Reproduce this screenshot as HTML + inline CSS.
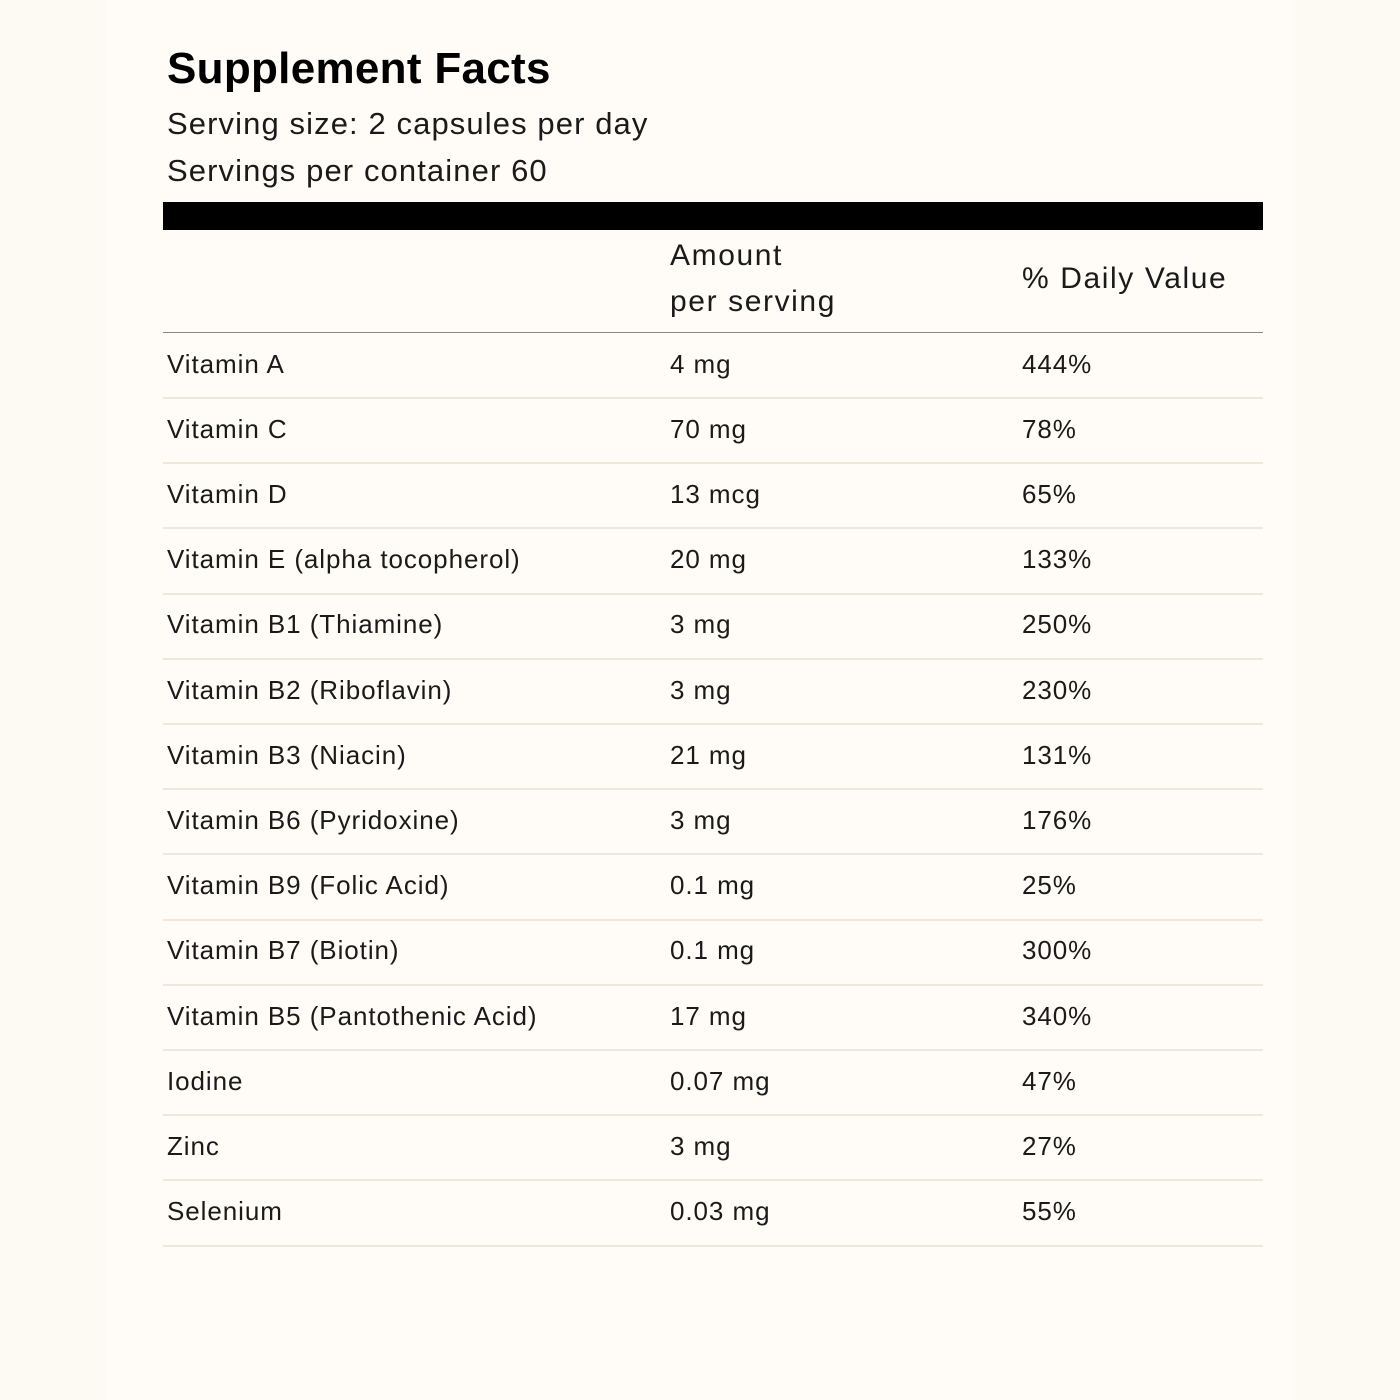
<!DOCTYPE html>
<html><head><meta charset="utf-8"><style>
html,body{margin:0;padding:0}
body{width:1400px;height:1400px;background:#fdf9f3;position:relative;overflow:hidden;font-family:"Liberation Sans",Arial,sans-serif;color:#111}
.panel{position:absolute;left:107px;top:0;width:1185px;height:1400px;background:#fffcf7}
.t{position:absolute;white-space:nowrap;line-height:1}
.title{left:167px;top:47px;font-size:44px;font-weight:bold;color:#000;letter-spacing:0.3px}
.sub{left:167px;font-size:31px;color:#1a1a1a;letter-spacing:1.1px}
.bar{position:absolute;left:163px;top:202px;width:1100px;height:28px;background:#000}
.hl{position:absolute;left:163px;width:1100px;height:1px;background:#888}
.sep{position:absolute;left:163px;width:1100px;height:2px;background:#f1e6da}
.h{font-size:30px;color:#1a1a1a;letter-spacing:1.6px}
.c{font-size:26px;color:#1a1a1a;letter-spacing:0.93px}
</style></head><body>
<div class="panel"></div>
<div class="t title">Supplement Facts</div>
<div class="t sub" style="top:108px">Serving size: 2 capsules per day</div>
<div class="t sub" style="top:155px">Servings per container 60</div>
<div class="bar"></div>
<div class="t h" style="left:670px;top:241px">Amount</div>
<div class="t h" style="left:670px;top:287px">per serving</div>
<div class="t h" style="left:1022px;top:264px">% Daily Value</div>
<div class="hl" style="top:332px"></div>
<div id="rows"></div>
<script>
var d=[["Vitamin A","4 mg","444%"],["Vitamin C","70 mg","78%"],["Vitamin D","13 mcg","65%"],["Vitamin E (alpha tocopherol)","20 mg","133%"],["Vitamin B1 (Thiamine)","3 mg","250%"],["Vitamin B2 (Riboflavin)","3 mg","230%"],["Vitamin B3 (Niacin)","21 mg","131%"],["Vitamin B6 (Pyridoxine)","3 mg","176%"],["Vitamin B9 (Folic Acid)","0.1 mg","25%"],["Vitamin B7 (Biotin)","0.1 mg","300%"],["Vitamin B5 (Pantothenic Acid)","17 mg","340%"],["Iodine","0.07 mg","47%"],["Zinc","3 mg","27%"],["Selenium","0.03 mg","55%"]];
var h="";
for(var i=0;i<d.length;i++){var c=364+i*65.2;var y=c-13.5;
h+='<div class="t c" style="left:167px;top:'+y+'px">'+d[i][0]+'</div>';
h+='<div class="t c" style="left:670px;top:'+y+'px">'+d[i][1]+'</div>';
h+='<div class="t c" style="left:1022px;top:'+y+'px">'+d[i][2]+'</div>';
h+='<div class="sep" style="top:'+(397+i*65.2)+'px"></div>';}
document.getElementById("rows").innerHTML=h;
</script>
</body></html>
